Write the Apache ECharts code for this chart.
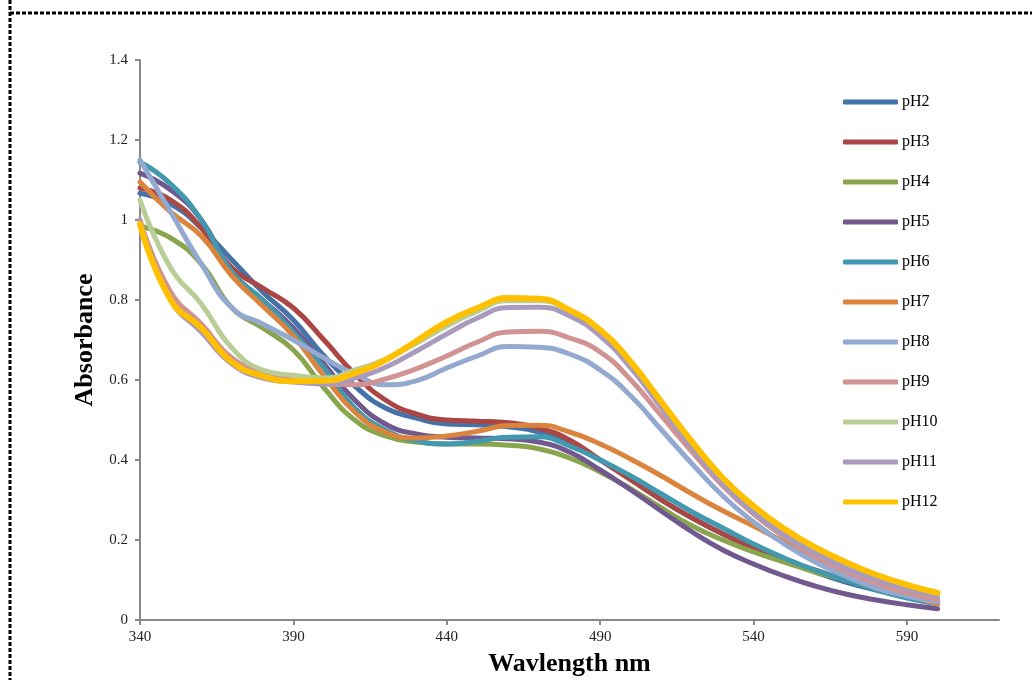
<!DOCTYPE html>
<html>
<head>
<meta charset="utf-8">
<script src="https://cdn.jsdelivr.net/npm/echarts@6/dist/echarts.min.js"></script>
<style>
html,body{margin:0;padding:0;background:#fff;}
#chart{width:1032px;height:680px;}
</style>
</head>
<body>
<div id="chart"></div>
<script>
// Wavelengths (nm)
var wavelengths = [340,350,360,370,380,390,400,410,420,430,440,450,460,470,480,490,500,510,520,530,540,550,560,570,580,590,600];
var xTicks = [340,390,440,490,540,590];

var pH2  = [1.067,1.04,0.98,0.90,0.82,0.75,0.66,0.585,0.53,0.505,0.49,0.488,0.483,0.47,0.44,0.40,0.355,0.30,0.255,0.215,0.18,0.15,0.12,0.095,0.075,0.058,0.045];
var pH3  = [1.08,1.05,0.98,0.88,0.83,0.78,0.70,0.615,0.55,0.515,0.50,0.497,0.493,0.48,0.45,0.40,0.35,0.30,0.255,0.215,0.18,0.15,0.125,0.10,0.08,0.063,0.05];
var pH4  = [0.985,0.955,0.89,0.78,0.73,0.675,0.58,0.50,0.46,0.445,0.44,0.44,0.437,0.428,0.405,0.37,0.328,0.28,0.235,0.20,0.17,0.145,0.12,0.10,0.08,0.062,0.048];
var pH5  = [1.117,1.075,1.0,0.87,0.80,0.73,0.64,0.55,0.49,0.465,0.457,0.455,0.453,0.445,0.42,0.375,0.325,0.272,0.22,0.175,0.14,0.11,0.085,0.065,0.05,0.038,0.028];
var pH6  = [1.145,1.09,1.0,0.87,0.80,0.72,0.63,0.53,0.475,0.448,0.44,0.447,0.457,0.458,0.435,0.40,0.36,0.315,0.27,0.23,0.19,0.155,0.125,0.10,0.075,0.055,0.04];
var pH7  = [1.095,1.02,0.96,0.86,0.785,0.71,0.61,0.52,0.47,0.455,0.46,0.472,0.486,0.487,0.47,0.44,0.402,0.36,0.315,0.273,0.235,0.195,0.157,0.122,0.09,0.063,0.04];
var pH8  = [1.15,1.02,0.89,0.78,0.74,0.70,0.655,0.615,0.588,0.598,0.63,0.66,0.684,0.682,0.665,0.625,0.56,0.475,0.39,0.31,0.245,0.19,0.145,0.11,0.08,0.06,0.045];
var pH9  = [1.0,0.82,0.74,0.655,0.62,0.60,0.59,0.588,0.603,0.628,0.66,0.695,0.72,0.722,0.705,0.67,0.60,0.51,0.42,0.335,0.265,0.208,0.16,0.122,0.092,0.068,0.052];
var pH10 = [1.05,0.88,0.79,0.68,0.625,0.612,0.605,0.625,0.652,0.692,0.735,0.772,0.798,0.798,0.772,0.72,0.64,0.54,0.44,0.35,0.278,0.22,0.175,0.137,0.106,0.082,0.065];
var pH11 = [1.0,0.80,0.72,0.64,0.605,0.595,0.59,0.605,0.632,0.672,0.715,0.755,0.781,0.782,0.76,0.71,0.63,0.53,0.43,0.34,0.27,0.213,0.168,0.13,0.10,0.077,0.06];
var pH12 = [0.99,0.80,0.73,0.645,0.61,0.597,0.598,0.617,0.65,0.697,0.745,0.78,0.805,0.803,0.775,0.725,0.645,0.545,0.445,0.355,0.285,0.228,0.182,0.145,0.113,0.088,0.068];

var seriesNames = ['pH2','pH3','pH4','pH5','pH6','pH7','pH8','pH9','pH10','pH11','pH12'];
var seriesValues = [pH2,pH3,pH4,pH5,pH6,pH7,pH8,pH9,pH10,pH11,pH12];
var colors = ['#4572A7','#AA4643','#89A54E','#71588F','#4198AF','#DB843D','#93A9CF','#D19392','#B9CD96','#A99BBD','#FFC000'];

var FONT = '"Liberation Serif", "Times New Roman", serif';

var series = seriesNames.map(function(name, i){
  return {
    name: name,
    type: 'line',
    smooth: 0.5,
    showSymbol: false,
    symbol: 'none',
    lineStyle: {width: name === 'pH12' ? 6 : 5, color: colors[i], cap: 'round'},
    itemStyle: {color: colors[i]},
    emphasis: {disabled: true},
    data: wavelengths.map(function(w, j){ return [w, seriesValues[i][j]]; })
  };
});

var chart = echarts.init(document.getElementById('chart'), null, {renderer: 'canvas'});
chart.setOption({
  animation: false,
  backgroundColor: '#fff',
  color: colors,
  grid: {left: 140, right: 33, top: 60, bottom: 60, containLabel: false, outerBoundsMode: 'none'},
  xAxis: {
    type: 'value', min: 340, max: 620,
    name: 'Wavlength nm', nameLocation: 'middle', nameGap: 31,
    nameTextStyle: {fontFamily: FONT, fontSize: 26, fontWeight: 'bold', color: '#000'},
    axisLine: {show: true, lineStyle: {color: '#898989', width: 2}},
    axisTick: {show: true, inside: false, length: 5, lineStyle: {color: '#898989', width: 2}, customValues: xTicks},
    axisLabel: {fontFamily: FONT, fontSize: 15, color: '#222', margin: 10, customValues: xTicks},
    splitLine: {show: false}
  },
  yAxis: {
    type: 'value', min: 0, max: 1.4, interval: 0.2,
    name: 'Absorbance', nameLocation: 'middle', nameGap: 42, nameRotate: 90,
    nameTextStyle: {fontFamily: FONT, fontSize: 26, fontWeight: 'bold', color: '#000'},
    axisLine: {show: true, lineStyle: {color: '#898989', width: 2}},
    axisTick: {show: true, inside: false, length: 5, lineStyle: {color: '#898989', width: 2}},
    axisLabel: {fontFamily: FONT, fontSize: 15, color: '#222', margin: 12},
    splitLine: {show: false}
  },
  legend: {
    orient: 'vertical', left: 843, top: 94, padding: 0,
    icon: 'roundRect', itemWidth: 55, itemHeight: 5, itemGap: 24,
    textStyle: {fontFamily: FONT, fontSize: 16, color: '#000', lineHeight: 16, padding: [0,0,0,-1]},
    data: seriesNames
  },
  graphic: [
    {type: 'line', shape: {x1: 10, y1: 13, x2: 1032, y2: 13}, style: {stroke: '#000', lineWidth: 3, lineDash: [4,2]}, silent: true},
    {type: 'line', shape: {x1: 10, y1: 0, x2: 10, y2: 680}, style: {stroke: '#000', lineWidth: 3, lineDash: [4,2]}, silent: true}
  ],
  series: series
});
</script>
</body>
</html>
